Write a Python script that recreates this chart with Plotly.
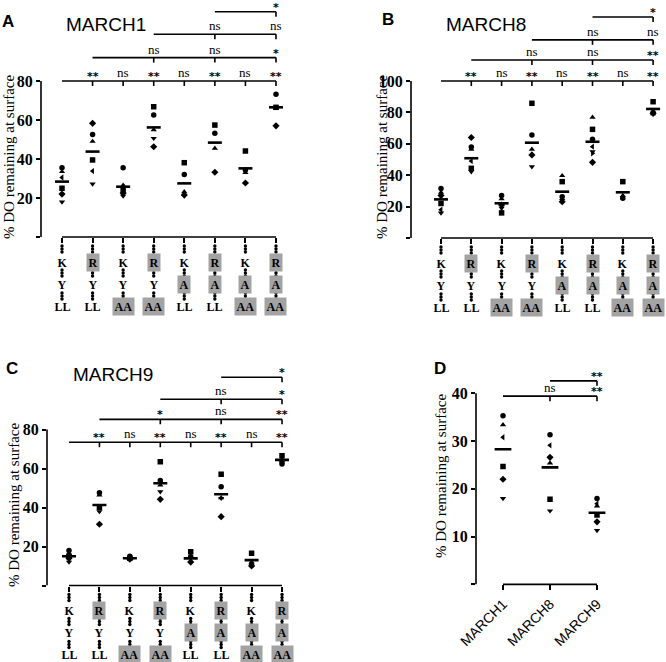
import plotly.graph_objects as go

W, H = 666, 662

# ---------------- data ----------------
mutant_row1 = ["K", "R", "K", "R", "K", "R", "K", "R"]
mutant_row2 = ["Y", "Y", "Y", "Y", "A", "A", "A", "A"]
mutant_row3 = ["LL", "LL", "AA", "AA", "LL", "LL", "AA", "AA"]
wild_type = ["K", "Y", "LL"]

march1_values = [
    [35.5, 33.5, 25.0, 22.0, 18.0, 30.5],
    [52.5, 49.0, 39.5, 58.3, 27.2, 33.8],
    [35.5, 26.5, 24.5, 22.5, 21.0, 25.5],
    [62.5, 55.0, 66.8, 46.3, 50.6],
    [32.0, 23.2, 38.1, 21.5],
    [53.2, 45.5, 57.4, 33.2],
    [34.4, 33.0, 44.1, 27.7],
    [73.2, 66.0, 66.5, 57.0],
]
march1_means = [28.4, 43.8, 25.8, 56.2, 27.5, 48.4, 35.2, 66.5]

march8_values = [
    [31.5, 29.0, 22.0, 27.0, 16.0, 18.0],
    [58.0, 56.5, 44.4, 64.0, 42.2, 49.0],
    [27.0, 25.0, 16.0, 21.0, 19.0],
    [65.6, 56.5, 85.8, 52.9, 45.4],
    [26.3, 39.7, 35.9, 23.1, 24.0],
    [62.9, 76.9, 69.2, 48.2, 55.0, 58.2, 54.0],
    [25.3, 27.0, 35.9],
    [80.0, 79.0, 86.8, 79.4],
]
march8_means = [24.6, 50.8, 22.1, 60.7, 29.5, 61.3, 29.1, 82.2]

march9_values = [
    [18.0, 16.5, 15.0, 14.0, 12.0, 13.5, 15.5],
    [47.6, 46.4, 40.0, 31.4, 37.9],
    [15.0, 14.5, 14.0, 13.5],
    [53.8, 51.5, 63.5, 44.2, 48.1],
    [14.8, 12.5, 17.3, 12.0],
    [50.7, 45.0, 57.0, 35.3, 44.7],
    [10.5, 12.0, 16.5, 10.0],
    [62.3, 63.4, 66.6, 64.0],
]
march9_means = [15.0, 41.3, 14.0, 52.4, 13.9, 46.8, 13.0, 64.4]

d_categories = ["MARCH1", "MARCH8", "MARCH9"]
d_values = [
    [35.3, 33.4, 24.7, 22.0, 18.0, 30.8],
    [31.3, 25.4, 17.8, 26.6, 15.4, 29.1],
    [18.0, 16.4, 14.5, 13.1, 11.3, 16.9],
]
d_means = [28.3, 24.5, 15.0]

# significance: (reference group, [(compared group, label), ...]) for each bracket row
march1_sig = [
    (0, [(1, "**"), (2, "ns"), (3, "**"), (4, "ns"), (5, "**"), (6, "ns"), (7, "**")]),
    (1, [(3, "ns"), (5, "ns"), (7, "*")]),
    (3, [(5, "ns"), (7, "ns")]),
    (5, [(7, "*")]),
]
march8_sig = [
    (0, [(1, "**"), (2, "ns"), (3, "**"), (4, "ns"), (5, "**"), (6, "ns"), (7, "**")]),
    (1, [(3, "ns"), (5, "ns"), (7, "**")]),
    (3, [(5, "ns"), (7, "ns")]),
    (5, [(7, "*")]),
]
march9_sig = [
    (0, [(1, "**"), (2, "ns"), (3, "**"), (4, "ns"), (5, "**"), (6, "ns"), (7, "**")]),
    (1, [(3, "*"), (5, "ns"), (7, "**")]),
    (3, [(5, "ns"), (7, "*")]),
    (5, [(7, "*")]),
]
d_sig = [
    (0, [(1, "ns"), (2, "**")]),
    (1, [(2, "**")]),
]

y_title = "% DO remaining at surface"

# ---------------- styling / layout ----------------
SYMBOLS = ["circle", "triangle-up", "square", "diamond", "triangle-down",
           "triangle-left", "triangle-right"]
SERIF = "Liberation Serif"
SANS = "Liberation Sans"
GREY = "#a3a3a3"

panels = [
    dict(values=march1_values, means=march1_means, sig=march1_sig,
         sig_levels=[80, 92, 104, 115.5], yticks=[0, 20, 40, 60, 80],
         axis_px=41, cat0_px=62, step_px=30.57, right_px=292,
         zero_px=237, scale=1.95, top_px=1,
         letter="A", letter_xy=(8, 21), title="MARCH1", title_xy=(106, 24),
         ytitle_xy=(9, 157), labels=True, cats=None, bar=10),
    dict(values=march8_values, means=march8_means, sig=march8_sig,
         sig_levels=[100, 113.4, 126.2, 140.8], yticks=[0, 20, 40, 60, 80, 100],
         axis_px=411, cat0_px=441, step_px=30.3, right_px=664,
         zero_px=238, scale=1.57, top_px=2,
         letter="B", letter_xy=(388, 19), title="MARCH8", title_xy=(486, 24),
         ytitle_xy=(382, 157), labels=True, cats=None, bar=10),
    dict(values=march9_values, means=march9_means, sig=march9_sig,
         sig_levels=[73.5, 85.2, 95.5, 106.8], yticks=[0, 20, 40, 60, 80],
         axis_px=47, cat0_px=69, step_px=30.43, right_px=296,
         zero_px=585.5, scale=1.95, top_px=362,
         letter="C", letter_xy=(12, 368), title="MARCH9", title_xy=(113, 374),
         ytitle_xy=(14, 505), labels=True, cats=None, bar=10),
    dict(values=d_values, means=d_means, sig=d_sig,
         sig_levels=[39.4, 42.6], yticks=[0, 10, 20, 30, 40],
         axis_px=476, cat0_px=503, step_px=47, right_px=620,
         zero_px=584.4, scale=4.778, top_px=366,
         letter="D", letter_xy=(440, 368), title=None, title_xy=None,
         ytitle_xy=(441, 476), labels=False, cats=d_categories, bar=12),
]

fig = go.Figure()
layout = dict(template="none", width=W, height=H,
              margin=dict(l=0, r=0, t=0, b=0, pad=0, autoexpand=False),
              paper_bgcolor="white", plot_bgcolor="rgba(0,0,0,0)",
              showlegend=False)
annotations = []
shapes = []
line_style = dict(color="black", width=1.6)


def paper_text(xy, text, font, angle=0):
    return dict(x=xy[0] / W, y=1 - xy[1] / H, xref="paper", yref="paper", text=text,
                showarrow=False, xanchor="center", yanchor="middle", textangle=angle,
                font=font)


for p_i, p in enumerate(panels, start=1):
    xs_name = "x" if p_i == 1 else f"x{p_i}"
    ys_name = "y" if p_i == 1 else f"y{p_i}"
    n = len(p["values"])

    x_lo = (p["axis_px"] - p["cat0_px"]) / p["step_px"]
    x_hi = (p["right_px"] - p["cat0_px"]) / p["step_px"]
    y_top_val = (p["zero_px"] - p["top_px"]) / p["scale"]

    xaxis = dict(domain=[p["axis_px"] / W, p["right_px"] / W], range=[x_lo, x_hi],
                 anchor=ys_name, tickvals=list(range(n)), ticks="outside", ticklen=5,
                 tickwidth=1.6, tickcolor="black", showline=False, showgrid=False,
                 zeroline=False, showticklabels=False, fixedrange=True, automargin=False)
    if p["cats"] is not None:
        xaxis.update(showticklabels=True, ticktext=p["cats"], tickangle=-45,
                     tickfont=dict(family=SANS, size=14, color="black"))
    yaxis = dict(domain=[1 - p["zero_px"] / H, 1 - p["top_px"] / H], range=[0, y_top_val],
                 anchor=xs_name, tickvals=p["yticks"],
                 ticktext=["" if v == 0 else str(v) for v in p["yticks"]],
                 ticks="outside", ticklen=4, tickwidth=1.6, tickcolor="black",
                 showline=False, showgrid=False, zeroline=False, fixedrange=True,
                 automargin=False,
                 tickfont=dict(family=SERIF, size=16, color="black", weight="bold"))
    layout["xaxis" if p_i == 1 else f"xaxis{p_i}"] = xaxis
    layout["yaxis" if p_i == 1 else f"yaxis{p_i}"] = yaxis

    # axis lines (offset style)
    shapes.append(dict(type="line", xref=f"{xs_name} domain", yref=ys_name,
                       x0=0, x1=0, y0=0, y1=p["yticks"][-1], line=line_style))
    shapes.append(dict(type="line", xref=xs_name, yref=f"{ys_name} domain",
                       x0=0, x1=n - 1, y0=0, y1=0, line=line_style))

    # data points
    px_, py_, ps_ = [], [], []
    for i, vals in enumerate(p["values"]):
        for j, v in enumerate(vals):
            px_.append(i)
            py_.append(v)
            ps_.append(SYMBOLS[j % len(SYMBOLS)])
    fig.add_trace(go.Scatter(x=px_, y=py_, mode="markers", xaxis=xs_name, yaxis=ys_name,
                             marker=dict(symbol=ps_, size=5.5, color="black",
                                         line=dict(width=0)),
                             hoverinfo="skip"))
    fig.add_trace(go.Scatter(x=list(range(n)), y=p["means"], mode="markers",
                             xaxis=xs_name, yaxis=ys_name,
                             marker=dict(symbol="line-ew", size=p["bar"],
                                         line=dict(color="black", width=2.6)),
                             hoverinfo="skip"))

    # significance brackets
    for (ref, comps), lvl in zip(p["sig"], p["sig_levels"]):
        end = comps[-1][0]
        shapes.append(dict(type="line", xref=xs_name, yref=ys_name,
                           x0=ref, x1=end, y0=lvl, y1=lvl, line=line_style))
        for idx, lab in comps:
            star = "*" in lab
            shapes.append(dict(type="line", xref=xs_name, yref=ys_name,
                               ysizemode="pixel", yanchor=lvl, x0=idx, x1=idx,
                               y0=0, y1=-5, line=line_style))
            annotations.append(dict(x=idx, y=lvl, xref=xs_name, yref=ys_name,
                                    text=lab, showarrow=False, xanchor="center",
                                    yanchor="bottom", yshift=-4 if star else -1,
                                    font=dict(family="DejaVu Sans" if star else SERIF,
                                              size=11 if star else 13, color="black",
                                              weight="bold" if star else "normal")))

    # mutant labels below x-axis
    if p["labels"]:
        lab_axis = f"yaxis{4 + p_i}"
        lab_ref = f"y{4 + p_i}"
        bottom_px = min(p["zero_px"] + 80, H)
        layout[lab_axis] = dict(domain=[1 - bottom_px / H, 1 - p["zero_px"] / H],
                                range=[-(bottom_px - p["zero_px"]), 0], anchor=xs_name,
                                visible=False, fixedrange=True, automargin=False)
        dot_x, dot_y = [], []
        for i in range(n):
            for off in (9, 12, 15, 33, 36, 39, 56, 59, 62):
                dot_x.append(i)
                dot_y.append(-off)
        fig.add_trace(go.Scatter(x=dot_x, y=dot_y, mode="markers", xaxis=xs_name,
                                 yaxis=lab_ref, marker=dict(size=3.4, color="black",
                                                            line=dict(width=0)),
                                 hoverinfo="skip", cliponaxis=False))
        for row, off, wt in zip((mutant_row1, mutant_row2, mutant_row3), (25, 47, 69), wild_type):
            for i, t in enumerate(row):
                hl = t != wt
                annotations.append(dict(x=i, y=-off, xref=xs_name, yref=lab_ref, text=t,
                                        showarrow=False, xanchor="center", yanchor="middle",
                                        bgcolor=GREY if hl else None, borderpad=1.5,
                                        font=dict(family=SERIF, size=12, color="black",
                                                  weight="bold")))

    # texts: panel letter, title, y title
    annotations.append(paper_text(p["letter_xy"], p["letter"],
                                  dict(family=SANS, size=17, color="black", weight="bold")))
    if p["title"]:
        annotations.append(paper_text(p["title_xy"], p["title"],
                                      dict(family=SANS, size=19, color="black")))
    annotations.append(paper_text(p["ytitle_xy"], y_title,
                                  dict(family=SERIF, size=15, color="black"), angle=-90))

layout["annotations"] = annotations
layout["shapes"] = shapes
fig.update_layout(**layout)
fig.write_html("out.html", config={"displayModeBar": False},
               post_script="document.body.style.margin='0';document.body.style.padding='0';")
